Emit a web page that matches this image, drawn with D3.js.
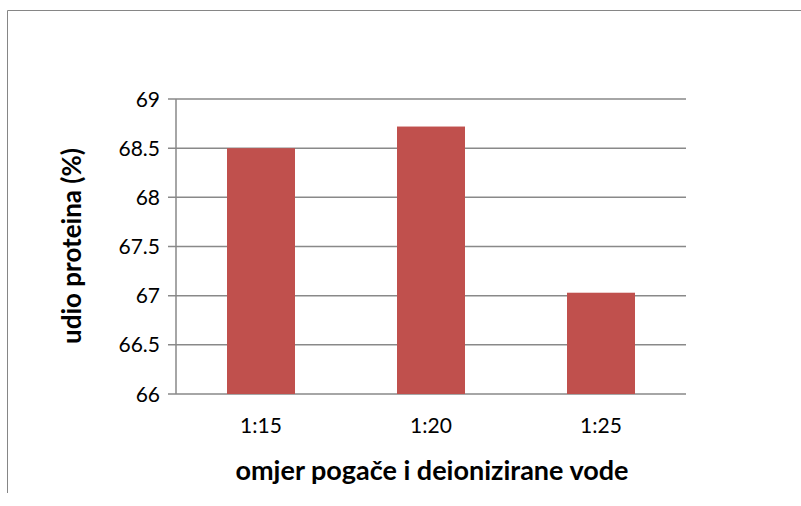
<!DOCTYPE html>
<html><head><meta charset="utf-8">
<script src="https://cdn.jsdelivr.net/npm/d3@7"></script>
<style>body{margin:0;background:#fff}svg{display:block}</style>
</head><body>
<svg id="c" width="801" height="506"></svg>
<script>
const categories = ["1:15", "1:20", "1:25"];
const values = [68.5, 68.72, 67.03];
const yTicks = [66, 66.5, 67, 67.5, 68, 68.5, 69];
const yTitle = "udio proteina (%)";
const xTitle = "omjer pogače i deionizirane vode";

(function(){
const svg = d3.select("#c");
const font = "Lato, 'Open Sans', sans-serif";
// frame
svg.append("path").attr("d", "M7.5,493V10.5H801").attr("fill","none").attr("stroke","#868686").attr("stroke-width",1);

const pL = 176, pR = 686, pT = 99, pB = 394;
const x = d3.scaleBand().domain(categories).range([pL, pR]).paddingInner(0.6).paddingOuter(0.3);
const y = d3.scaleLinear().domain([66, 69]).range([pB, pT]);

// gridlines
svg.append("g").selectAll("line").data(yTicks).join("line")
  .attr("x1", pL - 8).attr("x2", pR)
  .attr("y1", d => y(d)).attr("y2", d => y(d))
  .attr("stroke", "#898989").attr("stroke-width", 1.5);

// bars
svg.append("g").selectAll("rect").data(values).join("rect")
  .attr("x", (d,i) => x(categories[i]))
  .attr("width", x.bandwidth())
  .attr("y", d => y(d))
  .attr("height", d => y(66) - y(d))
  .attr("fill", "#C0504D");

// y axis line
svg.append("line").attr("x1", pL).attr("x2", pL).attr("y1", pT).attr("y2", pB)
  .attr("stroke", "#898989").attr("stroke-width", 1.5);

// y tick labels
svg.append("g").selectAll("text").data(yTicks).join("text")
  .attr("x", 160).attr("y", d => y(d)).attr("dy", "0.36em")
  .attr("text-anchor", "end").attr("font-family", font).attr("font-size", 21)
  .attr("fill", "#000").text(d => d);

// x tick labels
svg.append("g").selectAll("text").data(categories).join("text")
  .attr("x", d => x(d) + x.bandwidth()/2).attr("y", 433)
  .attr("text-anchor", "middle").attr("font-family", font).attr("font-size", 21)
  .attr("fill", "#000").text(d => d);

// axis titles
svg.append("text").attr("x", 432).attr("y", 480).attr("text-anchor", "middle")
  .attr("font-family", font).attr("font-size", 27).attr("font-weight", "bold").text(xTitle);
svg.append("text").attr("transform", "translate(81,246) rotate(-90)").attr("text-anchor", "middle")
  .attr("font-family", font).attr("font-size", 26).attr("font-weight", "bold").text(yTitle);
})();
</script>
</body></html>
